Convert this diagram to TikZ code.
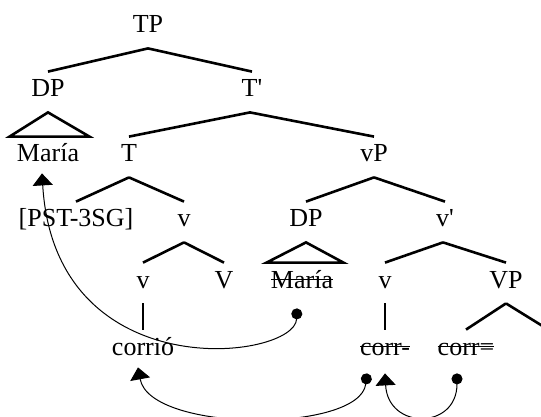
\documentclass[tikz,border=0pt]{standalone}
\usepackage{fontspec}
\setmainfont{Liberation Serif}
\usetikzlibrary{arrows.meta, positioning, calc}
% struck-out copy
\newcommand{\struck}[1]{\setbox0\hbox{#1}\rlap{\rule[0.3em]{\wd0}{0.7pt}}\box0}
\tikzset{%
  cat/.style={inner xsep=0pt, inner ysep=3.5pt, text height=9pt, text depth=0pt, anchor=base},
  branch/.style={line width=1.3pt},
  move/.style={line width=0.5pt, {Circle[length=5.5pt]}-{Triangle[width=10pt,length=6pt]}},
}

\begin{document}
\begin{tikzpicture}[x=0.5pt, y=-0.5pt, font=\fontsize{13}{15}\selectfont]
  \useasboundingbox (0,0) rectangle (541,417);

  \node[cat] (TP) at (148,33) {TP};
  \node[cat] (DP) at (48,97) {DP};
  \node[cat] (Tbar) at (252,97) {T\textquotesingle};
  \node[cat] (Maria) at (48,162) {María};
  \node[cat] (T) at (129,162) {T};
  \node[cat] (vP) at (374,162) {vP};
  \node[cat] (PST) at (76,227) {[PST-3SG]};
  \node[cat] (v1) at (184,227) {v};
  \node[cat] (DP2) at (306,227) {DP};
  \node[cat] (vbar) at (445,227) {v\textquotesingle};
  \node[cat] (v2) at (143,288) {v};
  \node[cat] (V) at (224,288) {V};
  \node[cat] (Maria2) at (302,288) {\struck{María}};
  \node[cat] (v3) at (385,288) {v};
  \node[cat] (VP) at (506,288) {VP};
  \node[cat] (corrio) at (143,355) {corrió};
  \node[cat] (corrA) at (385,355) {\struck{corr-}};
  \node[cat] (corrB) at (466,355) {\struck{corr=}};
  \coordinate (VPr) at (549,330);

  \draw[branch] ([yshift=-4pt]TP.south) -- (DP.north);
  \draw[branch] ([yshift=-4pt]TP.south) -- (Tbar.north);
  \draw[branch] ([yshift=-4pt]DP.south) -- ([xshift=-3.5pt]Maria.north west) -- ([xshift=5pt]Maria.north east) -- cycle;
  \draw[branch] ([xshift=-1pt,yshift=-4pt]Tbar.south) -- (T.north);
  \draw[branch] ([xshift=-1pt,yshift=-4pt]Tbar.south) -- (vP.north);
  \draw[branch] ([yshift=-4pt]T.south) -- (PST.north);
  \draw[branch] ([yshift=-4pt]T.south) -- (v1.north);
  \draw[branch] ([yshift=-4pt]vP.south) -- (DP2.north);
  \draw[branch] ([yshift=-4pt]vP.south) -- (vbar.north);
  \draw[branch] ([yshift=-4pt]v1.south) -- (v2.north);
  \draw[branch] ([yshift=-4pt]v1.south) -- (V.north);
  \draw[branch] ([yshift=-4pt]DP2.south) -- ([xshift=-2pt]Maria2.north west) -- ([xshift=5pt]Maria2.north east) -- cycle;
  \draw[branch] ([xshift=-1pt,yshift=-4pt]vbar.south) -- (v3.north);
  \draw[branch] ([xshift=-1pt,yshift=-4pt]vbar.south) -- (VP.north);
  \draw[branch] ([yshift=-4pt]v2.south) -- (corrio.north);
  \draw[branch] ([yshift=-4pt]v3.south) -- (corrA.north);
  \draw[branch] ([yshift=-4pt]VP.south) -- (corrB.north);
  \draw[branch] ([yshift=-4pt]VP.south) -- (VPr);

  % movement arrows
  \draw[move] ([xshift=-2.5pt,yshift=-6.5pt]Maria2.south) .. controls (295,360) and (55,390) .. ([xshift=-3pt,yshift=-2pt]Maria.south);
  \draw[move] ([xshift=-9pt,yshift=-5.5pt]corrA.south) .. controls (360,433) and (150,433) .. ([xshift=-2.5pt,yshift=-2.5pt]corrio.south);
  \draw[move] ([xshift=-4.5pt,yshift=-5.5pt]corrB.south) .. controls (457,430) and (388,430) .. ([yshift=-5.5pt]corrA.south);
\end{tikzpicture}
\end{document}
